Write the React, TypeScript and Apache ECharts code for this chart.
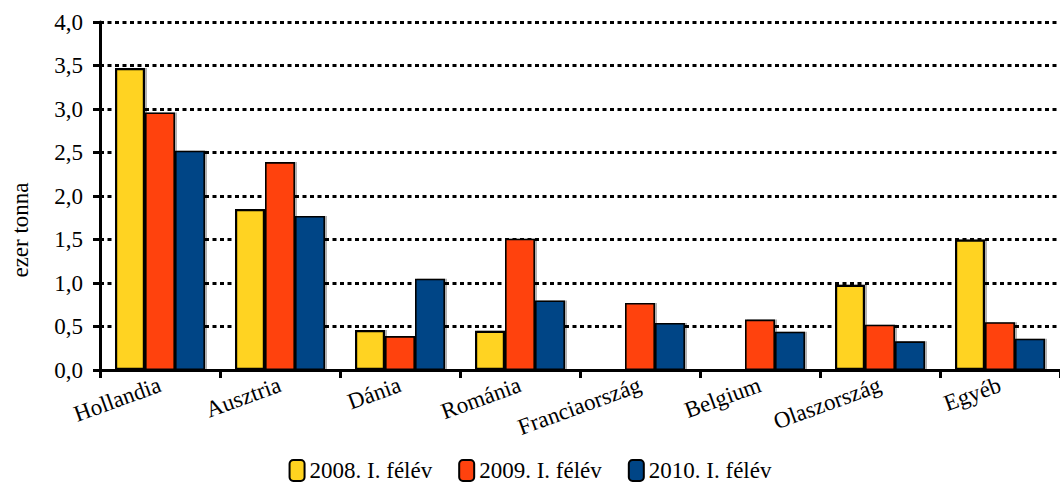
import React, { useEffect, useRef } from "react";
import * as echarts from "echarts";

const categories = ["Hollandia", "Ausztria", "Dánia", "Románia", "Franciaország", "Belgium", "Olaszország", "Egyéb"];
const seriesNames = ["2008. I. félév", "2009. I. félév", "2010. I. félév"];
const values2008 = [3.47, 1.85, 0.46, 0.45, 0.02, 0, 0.98, 1.5];
const values2009 = [2.96, 2.39, 0.39, 1.51, 0.77, 0.58, 0.52, 0.55];
const values2010 = [2.52, 1.77, 1.05, 0.8, 0.54, 0.44, 0.33, 0.36];
const colors = ["#FFD320", "#FF420E", "#004586"];
const yTicks = { min: 0, max: 4, interval: 0.5 };
const yTitle = "ezer tonna";

const FONT = "Liberation Serif";
const FS = 23;

export default function App() {
  const ref = useRef<HTMLDivElement>(null);
  useEffect(() => {
    if (!ref.current) return;
    const chart = echarts.init(ref.current, null, { renderer: "svg" });
    const data = [values2008, values2009, values2010];
    chart.setOption({
      animation: false,
      textStyle: { fontFamily: FONT },
      grid: { left: 100, right: -3, top: 22, bottom: 119, containLabel: false },
      legend: {
        bottom: 2,
        left: "center",
        itemWidth: 15,
        itemHeight: 21,
        itemGap: 26,
        textStyle: { fontFamily: FONT, fontSize: FS, color: "#000" },
        data: seriesNames,
      },
      xAxis: {
        type: "category",
        data: categories,
        axisLine: { lineStyle: { color: "#000", width: 3 } },
        axisTick: { show: true, length: 8, lineStyle: { color: "#000", width: 3 } },
        axisLabel: { rotate: 20, fontFamily: FONT, fontSize: FS, color: "#000", margin: 14, interval: 0 },
        splitLine: { show: false },
      },
      yAxis: {
        type: "value",
        min: yTicks.min,
        max: yTicks.max,
        interval: yTicks.interval,
        axisLine: { show: true, lineStyle: { color: "#000", width: 3 } },
        axisTick: { show: true, length: 7, lineStyle: { color: "#000", width: 3 } },
        axisLabel: {
          fontFamily: FONT,
          fontSize: FS,
          color: "#000",
          margin: 17,
          formatter: (v: number) => v.toFixed(1).replace(".", ","),
        },
        splitLine: { show: true, lineStyle: { color: "#000", width: 3, type: [4, 3.5] } },
      },
      graphic: [
        {
          type: "text",
          x: 20,
          y: 230,
          rotation: Math.PI / 2,
          style: {
            text: yTitle,
            fontFamily: FONT,
            fontSize: FS,
            fill: "#000",
            align: "center",
            verticalAlign: "middle",
          },
        },
      ],
      series: seriesNames.map((name, i) => ({
        name,
        type: "bar",
        data: data[i],
        barGap: "0%",
        barCategoryGap: "25%",
        itemStyle: {
          color: colors[i],
          borderColor: "#000",
          borderWidth: i === 0 ? 2.2 : 1.6,
          shadowColor: "rgba(0,0,0,0.3)",
          shadowOffsetX: 2,
          shadowOffsetY: 0,
          shadowBlur: 0,
        },
      })),
    });
    return () => chart.dispose();
  }, []);
  return <div ref={ref} style={{ position: "absolute", left: 0, top: 0, width: 1060, height: 489 }} />;
}
